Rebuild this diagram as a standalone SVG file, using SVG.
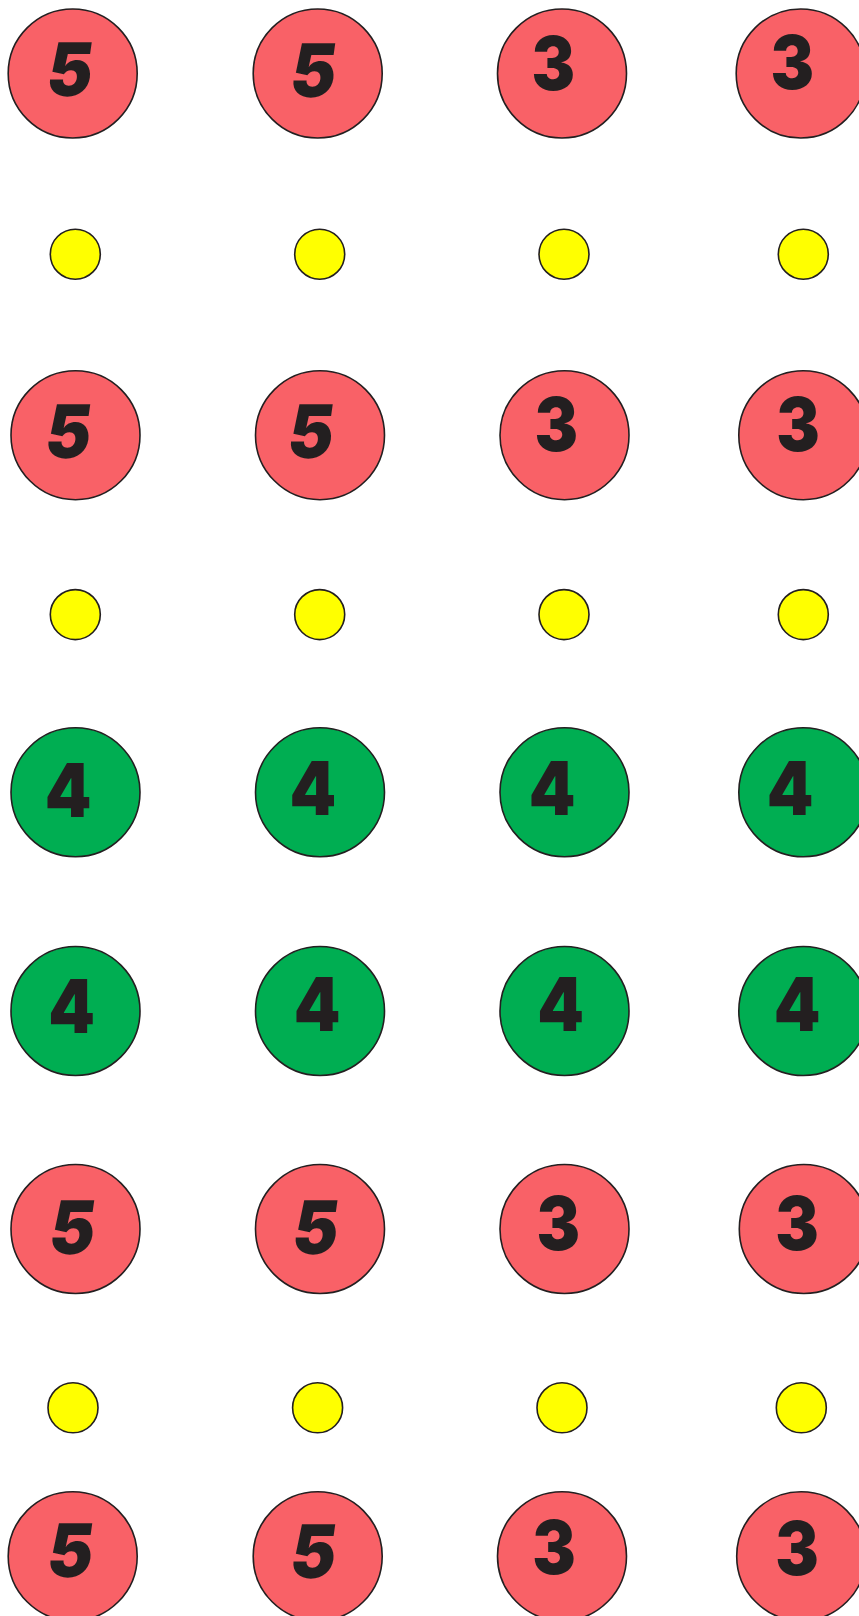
<svg xmlns="http://www.w3.org/2000/svg" width="859" height="1616" viewBox="0 0 859 1616">
<style>
.r{fill:#F96167;stroke:#231F20;stroke-width:1.6}
.g{fill:#00AE52;stroke:#231F20;stroke-width:1.6}
.y{fill:#FFFF00;stroke:#231F20;stroke-width:1.6}
.t{font-family:Inter,"Liberation Sans",sans-serif;font-weight:900;font-size:74px;fill:#231F20;text-anchor:middle}
</style>
<rect width="859" height="1616" fill="#fff"/>
<g id="connectors"/>
<g id="r1c1"><circle class="r" cx="72.7" cy="73.5" r="64.5"/><text class="t" transform="translate(67 96) skewX(-8) scale(0.92 1)">5</text></g>
<g id="r1c2"><circle class="r" cx="317.7" cy="73.5" r="64.5"/><text class="t" transform="translate(310.3 97) skewX(-8) scale(0.92 1)">5</text></g>
<g id="r1c3"><circle class="r" cx="562" cy="73.5" r="64.5"/><text class="t" transform="translate(553.3 89.5) scale(0.88 1)">3</text></g>
<g id="r1c4"><circle class="r" cx="800.7" cy="73.5" r="64.5"/><text class="t" transform="translate(792.2 89) scale(0.88 1)">3</text></g>

<g id="y1c1"><circle class="y" cx="75.3" cy="254.2" r="25"/></g>
<g id="y1c2"><circle class="y" cx="319.7" cy="254.2" r="25"/></g>
<g id="y1c3"><circle class="y" cx="564" cy="254.2" r="25"/></g>
<g id="y1c4"><circle class="y" cx="803.3" cy="254.2" r="25"/></g>

<g id="r2c1"><circle class="r" cx="75.5" cy="435.2" r="64.5"/><text class="t" transform="translate(65.3 458) skewX(-8) scale(0.92 1)">5</text></g>
<g id="r2c2"><circle class="r" cx="320" cy="435.2" r="64.5"/><text class="t" transform="translate(307.8 458) skewX(-8) scale(0.92 1)">5</text></g>
<g id="r2c3"><circle class="r" cx="564.5" cy="435.2" r="64.5"/><text class="t" transform="translate(556.3 451) scale(0.88 1)">3</text></g>
<g id="r2c4"><circle class="r" cx="803.3" cy="435.2" r="64.5"/><text class="t" transform="translate(798 451) scale(0.88 1)">3</text></g>

<g id="y2c1"><circle class="y" cx="75.3" cy="614.6" r="25"/></g>
<g id="y2c2"><circle class="y" cx="319.7" cy="614.6" r="25"/></g>
<g id="y2c3"><circle class="y" cx="564" cy="614.6" r="25"/></g>
<g id="y2c4"><circle class="y" cx="803.3" cy="614.6" r="25"/></g>

<g id="g1c1"><circle class="g" cx="75.5" cy="792.3" r="64.5"/><text class="t" transform="translate(68 817) scale(0.9 1)">4</text></g>
<g id="g1c2"><circle class="g" cx="320" cy="792.3" r="64.5"/><text class="t" transform="translate(312.8 815) scale(0.9 1)">4</text></g>
<g id="g1c3"><circle class="g" cx="564.5" cy="792.3" r="64.5"/><text class="t" transform="translate(552 815) scale(0.9 1)">4</text></g>
<g id="g1c4"><circle class="g" cx="803.3" cy="792.3" r="64.5"/><text class="t" transform="translate(790 815) scale(0.9 1)">4</text></g>

<g id="g2c1"><circle class="g" cx="75.5" cy="1011" r="64.5"/><text class="t" transform="translate(71.7 1033) scale(0.9 1)">4</text></g>
<g id="g2c2"><circle class="g" cx="320" cy="1011" r="64.5"/><text class="t" transform="translate(317.2 1030.7) scale(0.9 1)">4</text></g>
<g id="g2c3"><circle class="g" cx="564.5" cy="1011" r="64.5"/><text class="t" transform="translate(560.5 1031) scale(0.9 1)">4</text></g>
<g id="g2c4"><circle class="g" cx="803.3" cy="1011" r="64.5"/><text class="t" transform="translate(797 1031) scale(0.9 1)">4</text></g>

<g id="r3c1"><circle class="r" cx="75.5" cy="1229" r="64.5"/><text class="t" transform="translate(69.5 1254) skewX(-8) scale(0.92 1)">5</text></g>
<g id="r3c2"><circle class="r" cx="320" cy="1229" r="64.5"/><text class="t" transform="translate(312.7 1254) skewX(-8) scale(0.92 1)">5</text></g>
<g id="r3c3"><circle class="r" cx="564.5" cy="1229" r="64.5"/><text class="t" transform="translate(558.3 1249.5) scale(0.88 1)">3</text></g>
<g id="r3c4"><circle class="r" cx="803.8" cy="1229" r="64.5"/><text class="t" transform="translate(797 1249.5) scale(0.88 1)">3</text></g>

<g id="y3c1"><circle class="y" cx="73" cy="1407.8" r="25"/></g>
<g id="y3c2"><circle class="y" cx="317.6" cy="1407.8" r="25"/></g>
<g id="y3c3"><circle class="y" cx="562" cy="1407.8" r="25"/></g>
<g id="y3c4"><circle class="y" cx="801.3" cy="1407.8" r="25"/></g>

<g id="r4c1"><circle class="r" cx="72.7" cy="1556.2" r="64.5"/><text class="t" transform="translate(67.3 1577) skewX(-8) scale(0.92 1)">5</text></g>
<g id="r4c2"><circle class="r" cx="317.7" cy="1556.2" r="64.5"/><text class="t" transform="translate(310.3 1578) skewX(-8) scale(0.92 1)">5</text></g>
<g id="r4c3"><circle class="r" cx="562" cy="1556.2" r="64.5"/><text class="t" transform="translate(554 1574) scale(0.88 1)">3</text></g>
<g id="r4c4"><circle class="r" cx="801.2" cy="1556.2" r="64.5"/><text class="t" transform="translate(797 1575) scale(0.88 1)">3</text></g>
</svg>
